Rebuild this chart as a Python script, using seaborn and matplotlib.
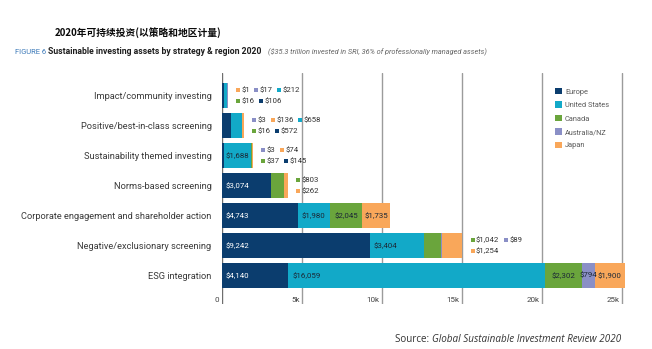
import numpy as np
import pandas as pd
import matplotlib
matplotlib.use("Agg")
import matplotlib.pyplot as plt
from matplotlib.patches import Patch
from matplotlib.transforms import ScaledTranslation, blended_transform_factory
import seaborn as sns

# ---- data (US$ billions) ----
categories = [
    "Impact/community investing",
    "Positive/best-in-class screening",
    "Sustainability themed investing",
    "Norms-based screening",
    "Corporate engagement and shareholder action",
    "Negative/exclusionary screening",
    "ESG integration",
]
regions = ["Europe", "United States", "Canada", "Australia/NZ", "Japan"]
europe = [106, 572, 145, 3074, 4743, 9242, 4140]
united_states = [212, 658, 1688, 0, 1980, 3404, 16059]
canada = [16, 16, 37, 803, 2045, 1042, 2302]
australia_nz = [17, 3, 3, 0, 0, 89, 794]
japan = [1, 136, 74, 262, 1735, 1254, 1900]
xtick_values = [0, 5000, 10000, 15000, 20000, 25000]
xtick_labels = ["0", "5k", "10k", "15k", "20k", "25k"]

colors = ["#0b3d6e", "#12a9c8", "#6aa53c", "#8a8fc6", "#f9a75a"]

# values printed inside the bars: (row, region index)
inside_labels = [
    (2, 1),
    (3, 0),
    (4, 0), (4, 1), (4, 2), (4, 4),
    (5, 0), (5, 1),
    (6, 0), (6, 1), (6, 2), (6, 3), (6, 4),
]
# values printed beside the bars, two lines per row (region indices)
outside_labels = {
    0: [[4, 3, 1], [2, 0]],
    1: [[3, 4, 1], [2, 0]],
    2: [[3, 4], [2, 0]],
    3: [[2], [4]],
    5: [[2, 3], [4]],
}

values = np.array([europe, united_states, canada, australia_nz, japan]).T
cum = np.cumsum(values, axis=1)
totals = cum[:, -1]

sns.set_theme(style="white")
plt.rcParams["font.family"] = ["Roboto", "DejaVu Sans"]

W, H, DPI = 652, 349, 100
fig = plt.figure(figsize=(W / DPI, H / DPI), dpi=DPI)
fig.patch.set_facecolor("white")
ax = fig.add_axes([222 / W, 1 - 304 / H, 408 / W, 231 / H])
ax.set_facecolor("none")

# stacked bars: draw the cumulative totals from the outermost region inwards
for i in reversed(range(len(regions))):
    df = pd.DataFrame({"category": categories, "value": cum[:, i]})
    sns.barplot(data=df, x="value", y="category", orient="h", color=colors[i],
                saturation=1, width=0.86, errorbar=None, linewidth=0, ax=ax,
                zorder=2)

ax.set_xlim(0, 25500)
ax.set_ylim(6.95, -0.75)
ax.set_xlabel("")
ax.set_ylabel("")
for s in ax.spines.values():
    s.set_visible(False)
ax.set_xticks([])
ax.tick_params(axis="y", length=0, pad=7.5, labelsize=6.7, labelcolor="#3a3a3a")

for v in xtick_values:
    ax.axvline(v, color="#9b9b9b" if v else "#6e6e6e", lw=1.0, zorder=0)

def px(dx, dy=0.0):
    return ScaledTranslation(dx / DPI, dy / DPI, fig.dpi_scale_trans)

# x tick labels sit inside the plot, to the left of each grid line
bt = blended_transform_factory(ax.transData, ax.transAxes)
for v, lab in zip(xtick_values, xtick_labels):
    ax.text(v, 0, lab, transform=bt + px(-2.5, 0.5), ha="right", va="bottom",
            fontsize=5.8, color="#444444")

def money(v):
    return f"${v:,}"

# labels inside bar segments
for row, r in inside_labels:
    v = values[row, r]
    left = cum[row, r] - v
    col = "white" if r == 0 else "#1c2836"
    if v > 3000:
        ax.text(left, row, money(v), transform=ax.transData + px(4), ha="left",
                va="center", fontsize=5.7, color=col, zorder=5)
    else:
        ax.text(left + v / 2, row, money(v), ha="center", va="center",
                fontsize=5.7, color=col, zorder=5)

# small values listed beside the bars with colour keys
renderer = fig.canvas.get_renderer()
for row, lines in outside_labels.items():
    for k, line in enumerate(lines):
        dy = 5.5 if k == 0 else -5.5
        cursor = 8.0
        for r in line:
            ax.plot([totals[row]], [row], marker="s", ms=3.4, mew=0,
                    color=colors[r], transform=ax.transData + px(cursor + 2.2, dy),
                    zorder=5, clip_on=False)
            t = ax.text(totals[row], row, money(values[row, r]),
                        transform=ax.transData + px(cursor + 5.5, dy),
                        ha="left", va="center", fontsize=5.6, color="#333333",
                        zorder=5)
            w = t.get_window_extent(renderer).width
            cursor += 5.5 + w + 4.5

ax.set_xlim(0, 25500)
ax.set_ylim(6.95, -0.75)

# legend
handles = [Patch(facecolor=c, edgecolor="none") for c in colors]
fig.legend(handles, regions, loc="upper left",
           bbox_to_anchor=(555 / W, 1 - 88 / H), frameon=False, fontsize=5.3,
           handlelength=0.95, handleheight=0.95, handletextpad=0.4,
           labelspacing=0.78, borderpad=0, borderaxespad=0,
           labelcolor="#5a5a5a")

# titles
fig.text(55 / W, 1 - 33 / H, "2020年可持续投资(以策略和地区计量)",
         family=["Noto Sans CJK SC", "DejaVu Sans"], fontsize=7.0,
         fontweight="bold", color="#0a0a0a", va="center", ha="left")
fig.text(15 / W, 1 - 52 / H, "FIGURE 6", fontsize=5.4, color="#3a78b8",
         va="center", ha="left")
sub = fig.text(48 / W, 1 - 52 / H,
               "Sustainable investing assets by strategy & region 2020",
               fontsize=6.2, fontweight="bold", color="#1e1e1e", va="center",
               ha="left")
sub_w = sub.get_window_extent(renderer).width
fig.text((48 + sub_w + 7) / W, 1 - 52 / H,
         "($35.3 trillion invested in SRI, 36% of professionally managed assets)",
         fontsize=5.3, style="italic", color="#666666", va="center", ha="left")

# source line
st = fig.text(621 / W, 1 - 340 / H, "Global Sustainable Investment Review 2020",
              family=["Open Sans", "DejaVu Sans"], fontsize=7.1, style="italic",
              color="#333333", va="center", ha="right")
sw = st.get_window_extent(renderer).width
fig.text((621 - sw) / W, 1 - 340 / H, "Source: ",
         family=["Open Sans", "DejaVu Sans"], fontsize=7.1, color="#333333",
         va="center", ha="right")

fig.savefig("out.png", dpi=DPI, facecolor="white")
